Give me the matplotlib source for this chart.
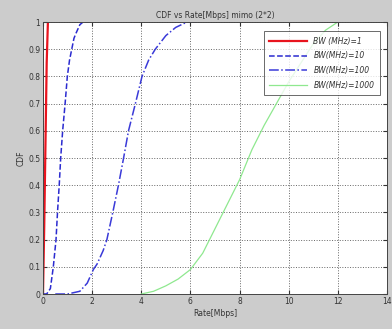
import numpy as np
import matplotlib
matplotlib.use("Agg")
import matplotlib.pyplot as plt

# CDF curves (rate in Mbps, cdf value)
rate_bw1 = [0.0, 0.05, 0.10, 0.15, 0.20]
cdf_bw1 = [0.0, 0.25, 0.55, 0.85, 1.0]

rate_bw10 = [0.0, 0.15, 0.30, 0.42, 0.53, 0.59, 0.66, 0.72, 0.80, 0.90, 0.99, 1.08, 1.17, 1.26, 1.35, 1.50, 1.63, 1.85]
cdf_bw10 = [0.0, 0.0, 0.02, 0.10, 0.20, 0.30, 0.40, 0.50, 0.60, 0.70, 0.80, 0.86, 0.90, 0.94, 0.96, 0.99, 1.0, 1.0]

rate_bw100 = [0.5, 1.0, 1.5, 1.8, 2.05, 2.2, 2.45, 2.6, 2.84, 3.07, 3.28, 3.48, 3.76, 4.03, 4.3, 4.57, 5.0, 5.4, 5.86, 6.4]
cdf_bw100 = [0.0, 0.0, 0.01, 0.04, 0.09, 0.11, 0.16, 0.20, 0.30, 0.40, 0.50, 0.60, 0.70, 0.80, 0.86, 0.90, 0.95, 0.98, 1.0, 1.0]

rate_bw1000 = [4.0, 4.5, 5.0, 5.5, 6.0, 6.5, 7.0, 7.5, 8.0, 8.5, 9.0, 9.5, 10.0, 10.5, 11.0, 11.5, 12.0]
cdf_bw1000 = [0.0, 0.01, 0.03, 0.055, 0.09, 0.15, 0.24, 0.33, 0.42, 0.53, 0.62, 0.70, 0.78, 0.85, 0.92, 0.97, 1.0]

labels = ['BW (MHz)=1', 'BW(MHz)=10', 'BW(MHz)=100', 'BW(MHz)=1000']
x_ticks = [0, 2, 4, 6, 8, 10, 12, 14]
y_ticks = [0, 0.1, 0.2, 0.3, 0.4, 0.5, 0.6, 0.7, 0.8, 0.9, 1]
y_tick_labels = ['0', '0.1', '0.2', '0.3', '0.4', '0.5', '0.6', '0.7', '0.8', '0.9', '1']

fig = plt.figure(figsize=(3.92, 3.29), dpi=100, facecolor=(0.8, 0.8, 0.8))
ax = fig.add_axes([43 / 392, 35 / 329, 344 / 392, 272 / 329])
ax.set_facecolor('white')

ax.plot(rate_bw1, cdf_bw1, '-', color='#e8141e', lw=1.6, label=labels[0])
ax.plot(rate_bw10, cdf_bw10, '--', color='#2b2bd0', lw=1.1, label=labels[1])
ax.plot(rate_bw100, cdf_bw100, '-.', color='#3a3ad8', lw=1.1, label=labels[2])
ax.plot(rate_bw1000, cdf_bw1000, '-', color='#8fe88f', lw=0.9, label=labels[3])

ax.set_xlim(0, 14)
ax.set_ylim(0, 1)
ax.set_xticks(x_ticks)
ax.set_yticks(y_ticks)
ax.set_yticklabels(y_tick_labels)
ax.tick_params(direction='in', top=True, right=True, labelsize=5.5, length=3,
               colors='#333333', pad=2)
ax.grid(True, linestyle=':', color='#666666', lw=0.7)
for s in ax.spines.values():
    s.set_color('#444444')
    s.set_linewidth(0.7)

ax.set_title('CDF vs Rate[Mbps] mimo (2*2)', fontsize=5.5, color='#333333', pad=3)
ax.set_xlabel('Rate[Mbps]', fontsize=5.5, color='#333333', labelpad=2)
ax.set_ylabel('CDF', fontsize=5.5, color='#333333', labelpad=2)

leg = ax.legend(loc='upper right', frameon=True, fancybox=False,
                edgecolor='#444444', handlelength=5, borderpad=0.7,
                labelspacing=0.75, bbox_to_anchor=(0.99, 0.98),
                prop={'style': 'italic', 'size': 5.5})
leg.get_frame().set_linewidth(0.7)
for t in leg.get_texts():
    t.set_color('#333333')

fig.savefig('out.png', dpi=100, facecolor=fig.get_facecolor())
